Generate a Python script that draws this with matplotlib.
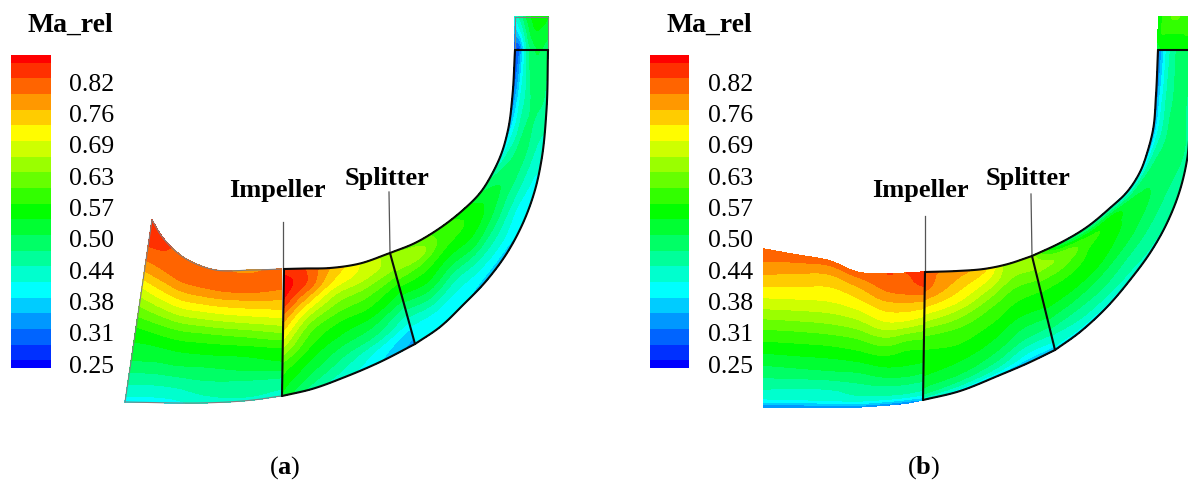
import numpy as np
import matplotlib
matplotlib.use("Agg")
import matplotlib.pyplot as plt
from matplotlib.colors import LinearSegmentedColormap, to_hex

W, H = 1188, 484
plt.rcParams['font.family'] = ['Liberation Serif', 'DejaVu Serif']
plt.rcParams['mathtext.fontset'] = 'custom'
plt.rcParams['mathtext.rm'] = 'Liberation Serif'
plt.rcParams['mathtext.bf'] = 'Liberation Serif:bold'

# ---- legend data ----
tick_values = [0.25, 0.3133, 0.3767, 0.44, 0.5033, 0.5667, 0.63, 0.6933, 0.7567, 0.82]
tick_labels = ['0.25', '0.31', '0.38', '0.44', '0.50', '0.57', '0.63', '0.69', '0.76', '0.82']
band_ma_start = 0.2419   # Ma_rel of contour band number 0
band_ma_step = 0.03165   # Ma_rel per contour band

# ---- panel (a): flow field, in contour band numbers ----
a_spans = [0, .12, .25, .37, .5, .62, .75, .87, 1]
a_inlet_top = [(152, 220), (163, 238), (183, 257), (207, 268), (253, 270), (281, 269)]
a_inlet_bot = [(125, 402), (150, 402.5), (175, 403), (200, 403), (253, 400), (281, 396)]
a_inlet_band = [
    [19.3, 18.7, 17.0, 14.5, 12.0, 10.0, 8.8, 7.0, 5.0],
    [18.8, 18.2, 16.5, 14.3, 11.8, 9.9, 8.5, 6.8, 5.0],
    [18.2, 18.0, 16.2, 14.0, 11.5, 9.8, 8.4, 6.8, 5.2],
    [18.0, 17.8, 15.8, 13.6, 11.2, 9.7, 8.3, 7.1, 5.9],
    [17.3, 18.0, 16.2, 14.2, 11.8, 10.0, 8.8, 7.2, 6.3],
    [18.0, 17.8, 16.4, 14.7, 12.5, 10.5, 9.2, 7.3, 6.0],
]
a_imp_top = [(284, 269), (305, 268.5), (330, 268), (360, 263.5), (390, 253)]
a_imp_bot = [(282, 396), (312, 389), (345, 377), (380, 362), (415, 344)]
a_imp_band = [
    [19.0, 20.1, 19.3, 17.3, 15.3, 13.5, 11.3, 10.2, 9.3],
    [18.5, 18.5, 16.3, 14.0, 12.0, 10.8, 9.6, 8.5, 7.0],
    [16.5, 15.5, 13.5, 12.0, 10.5, 9.5, 8.2, 7.0, 5.8],
    [14.5, 14.0, 12.5, 11.2, 10.0, 8.7, 7.3, 5.5, 4.5],
    [13.0, 13.0, 11.5, 10.0, 8.7, 7.0, 5.5, 4.0, 3.0],
]
a_dif_top = [(390, 253), (415, 243), (440, 228), (463, 210), (480, 193), (492, 174), (502, 152),
             (508, 130), (512.5, 95), (515, 50)]
a_dif_bot = [(415, 344), (440, 327), (463, 305), (487, 280), (507, 253), (523, 223), (535, 190),
             (541.5, 160), (546.5, 110), (548, 50)]
a_dif_band = [
    [12.5, 13.0, 12.0, 10.5, 9.0, 7.5, 6.0, 5.0, 4.5],
    [12.0, 13.0, 11.5, 10.3, 9.2, 7.8, 6.2, 5.0, 4.5],
    [11.0, 11.0, 10.5, 9.5, 8.3, 7.0, 5.8, 5.0, 4.6],
    [10.0, 10.4, 10.2, 9.5, 8.5, 7.2, 6.0, 5.0, 4.0],
    [8.5, 9.3, 9.3, 8.7, 7.8, 6.8, 6.0, 5.0, 4.0],
    [7.0, 8.0, 8.5, 8.0, 7.3, 6.5, 5.5, 5.0, 5.0],
    [4.5, 6.5, 7.5, 8.0, 7.5, 6.8, 6.0, 5.4, 5.2],
    [3.5, 5.3, 6.5, 7.5, 7.8, 7.3, 6.6, 6.0, 5.7],
    [2.0, 3.8, 5.7, 6.5, 7.3, 7.7, 7.6, 7.4, 7.0],
    [1.0, 2.0, 4.5, 6.5, 8.0, 8.5, 8.5, 8.0, 7.5],
]
a_out_top = [(515, 50), (515, 33), (515, 17)]
a_out_bot = [(548, 50), (548, 33), (548, 17)]
a_out_band = [
    [1.5, 1.0, 4.0, 6.5, 7.5, 8.2, 8.5, 8.3, 8.0],
    [3.5, 4.5, 6.0, 7.5, 8.7, 9.3, 9.3, 9.0, 8.7],
    [5.5, 6.5, 7.5, 8.7, 9.5, 10.0, 10.0, 10.0, 9.5],
]

# ---- panel (b) ----
b_spans = [0, .12, .25, .37, .5, .62, .75, .87, .96, 1]
b_inlet_top = [(764, 249), (797, 255), (830, 261), (857, 272), (887, 274), (907, 273), (923, 272)]
b_inlet_bot = [(764, 407), (797, 407), (830, 407), (857, 407), (887, 405), (907, 403), (923, 400)]
b_inlet_band = [
    [18.3, 17.0, 15.3, 13.6, 11.6, 10.0, 8.3, 6.7, 5.0, 2.5],
    [18.2, 16.5, 15.0, 13.4, 11.5, 10.0, 8.4, 6.6, 5.1, 2.5],
    [18.0, 16.1, 14.8, 13.3, 11.5, 10.0, 8.5, 6.6, 5.3, 2.5],
    [18.0, 16.3, 14.8, 13.2, 11.4, 10.0, 8.4, 6.8, 5.3, 2.5],
    [18.5, 17.6, 15.9, 14.4, 12.2, 10.5, 9.0, 7.2, 5.3, 2.5],
    [18.5, 18.0, 16.1, 14.4, 11.8, 10.2, 9.1, 7.2, 5.3, 2.5],
    [19.0, 18.4, 16.1, 14.1, 11.8, 10.3, 9.0, 7.2, 5.5, 3.5],
]
b_imp_top = [(925, 272), (957, 271), (987, 268.5), (1008, 264), (1032, 256)]
b_imp_bot = [(923, 400), (960, 391), (1000, 375), (1027, 363.5), (1055, 350)]
b_imp_band = [
    [17.8, 17.8, 15.9, 13.8, 11.5, 10.4, 9.9, 8.9, 7.3, 5.5],
    [17.0, 16.0, 14.6, 12.8, 11.2, 10.4, 9.5, 8.3, 6.2, 4.5],
    [15.5, 14.3, 12.7, 11.4, 10.5, 9.7, 8.7, 7.3, 5.5, 4.0],
    [13.0, 12.7, 11.5, 10.6, 9.8, 8.8, 7.7, 6.0, 4.5, 3.0],
    [12.8, 12.6, 11.5, 10.5, 9.8, 8.8, 7.5, 6.0, 4.5, 3.0],
]
b_dif_top = [(1032, 256), (1060, 243), (1087, 227), (1110, 208), (1127, 192), (1140, 172), (1148, 150),
             (1153, 130), (1156, 95), (1158, 50)]
b_dif_bot = [(1055, 350), (1080, 332), (1107, 307), (1130, 280), (1150, 253), (1167, 223), (1180, 190),
             (1187, 160), (1190, 110), (1192, 50)]
b_dif_band = [
    [12.8, 13.0, 11.8, 10.6, 10.0, 9.0, 7.8, 6.2, 5.5, 3.0],
    [8.0, 12.0, 11.5, 10.5, 9.8, 8.8, 7.6, 6.5, 5.5, 3.0],
    [6.5, 10.5, 10.3, 10.0, 9.5, 8.5, 7.6, 6.6, 5.5, 4.0],
    [5.5, 9.7, 9.7, 9.5, 9.0, 8.2, 7.4, 6.8, 5.8, 5.0],
    [4.5, 8.2, 9.0, 9.0, 8.5, 8.0, 7.3, 6.8, 6.2, 5.0],
    [4.0, 7.2, 8.3, 8.5, 8.2, 7.8, 7.3, 7.0, 6.5, 5.5],
    [3.0, 6.0, 7.5, 8.0, 8.0, 7.8, 7.5, 7.2, 7.0, 6.0],
    [2.5, 5.3, 6.7, 7.5, 8.0, 8.0, 7.8, 7.5, 7.2, 6.5],
    [2.0, 4.5, 6.0, 7.0, 7.5, 7.8, 7.8, 7.5, 7.3, 7.0],
    [1.8, 3.5, 5.5, 6.5, 7.3, 7.8, 8.0, 7.8, 7.5, 7.3],
]
b_out_top = [(1158, 50), (1158, 33), (1159, 17)]
b_out_bot = [(1192, 50), (1192, 33), (1192, 17)]
b_out_band = [
    [9.0, 9.5, 10.0, 10.0, 10.0, 10.0, 10.0, 10.0, 10.0, 10.0],
    [10.0, 10.5, 10.5, 10.5, 10.5, 10.5, 10.5, 10.5, 10.0, 10.0],
    [10.0, 10.5, 11.0, 11.5, 11.7, 11.5, 11.0, 10.5, 10.5, 10.0],
]

anchors = ['#0000ff', '#00ffff', '#00ff00', '#ffff00', '#ff0000']
cm = LinearSegmentedColormap.from_list('rainbow_bands', anchors, N=256)
band_colors = [to_hex(cm(i / 20)) for i in range(21)]
levels = [0.2418] + [band_ma_start + band_ma_step * (i - 0.5) for i in range(1, 21)] + [0.8747]


def smooth(t, y, tn):
    """Smooth the contour drawing between read stations (cubic Hermite along axis 0)."""
    t, y = np.asarray(t, float), np.asarray(y, float)
    d = np.gradient(y, t, axis=0)
    i = np.clip(np.searchsorted(t, tn, side='right') - 1, 0, len(t) - 2)
    h = (t[i + 1] - t[i]).reshape((-1,) + (1,) * (y.ndim - 1))
    u = ((tn - t[i]) / (t[i + 1] - t[i])).reshape(h.shape)
    return ((2 * u**3 - 3 * u**2 + 1) * y[i] + (u**3 - 2 * u**2 + u) * h * d[i]
            + (-2 * u**3 + 3 * u**2) * y[i + 1] + (u**3 - u**2) * h * d[i + 1])


def draw_zone(ax, top, bot, spans, bands):
    top, bot = np.array(top, float), np.array(bot, float)
    s = np.array(spans, float)
    mid = (top + bot) / 2
    t = np.r_[0, np.cumsum(np.hypot(*np.diff(mid, axis=0).T))]
    tn = np.linspace(t[0], t[-1], max(60, 10 * len(t)))
    sn = np.linspace(0, 1, 80)
    topf, botf = smooth(t, top, tn), smooth(t, bot, tn)
    X = topf[:, 0, None] * (1 - sn) + botf[:, 0, None] * sn
    Y = topf[:, 1, None] * (1 - sn) + botf[:, 1, None] * sn
    Z = band_ma_start + band_ma_step * np.array(bands, float)
    Zf = smooth(s, smooth(t, Z, tn).T, sn).T
    Zf = np.clip(Zf, levels[0] + 1e-4, levels[-1] - 1e-4)
    cs = ax.contourf(X, Y, Zf, levels=levels, colors=band_colors, zorder=1)
    cs.set_edgecolor('face')
    cs.set_linewidth(0.25)
    return cs, {'top': topf.T, 'bot': botf.T, 'first': (X[0], Y[0]), 'last': (X[-1], Y[-1])}


fig = plt.figure(figsize=(W / 100, H / 100), dpi=100)
ax = fig.add_axes([0, 0, 1, 1])
ax.set_xlim(0, W)
ax.set_ylim(H, 0)
ax.axis('off')

BLACK = dict(color='#0a0a0a', lw=1.5, zorder=3, solid_capstyle='round')
GREY = dict(color='#808080', lw=0.8, zorder=2)
LEAD = dict(color='#555555', lw=0.9, zorder=2)


def panel(spans, inlet, imp, dif, out, grey_edges, imp_lead, spl_lead,
          imp_text, spl_text, bar_x, bar_label_x, sub):
    cs, e_i = draw_zone(ax, *inlet[:2], spans, inlet[2])
    _, e_m = draw_zone(ax, *imp[:2], spans, imp[2])
    _, e_d = draw_zone(ax, *dif[:2], spans, dif[2])
    _, e_o = draw_zone(ax, *out[:2], spans, out[2])
    if grey_edges:
        for key in ('top', 'bot', 'first'):
            ax.plot(*e_i[key], **GREY)
        for key in ('top', 'bot', 'last'):
            ax.plot(*e_o[key], **GREY)
    for key in ('top', 'bot', 'first', 'last'):
        ax.plot(*e_m[key], **BLACK)
    for key in ('top', 'bot', 'last'):
        ax.plot(*e_d[key], **BLACK)
    ax.plot([imp_lead[0]] * 2, [imp_lead[1], imp[0][0][1]], **LEAD)
    ax.plot([spl_lead[0], imp[0][-1][0]], [spl_lead[1], imp[0][-1][1]], **LEAD)
    ax.text(*imp_text, 'Impeller', ha='center', va='center', fontsize=19, fontweight='bold')
    ax.text(*spl_text, 'Splitter', ha='center', va='center', fontsize=19, fontweight='bold')
    ax.text(sub[0], sub[1], '(' + r'$\mathbf{' + sub[2] + '}$' + ')', ha='center', va='center', fontsize=19)
    ax.text(bar_label_x + 44, 25, 'Ma_rel', ha='right', va='center', fontsize=20, fontweight='bold')
    cax = fig.add_axes([bar_x / W, 1 - 368.3 / H, 39.5 / W, 313.3 / H])
    cb = fig.colorbar(cs, cax=cax, spacing='proportional', ticks=tick_values)
    cb.outline.set_visible(False)
    cb.set_ticklabels(tick_labels)
    cax.tick_params(length=0, pad=13.5, labelsize=18.5)


panel(a_spans, (a_inlet_top, a_inlet_bot, a_inlet_band), (a_imp_top, a_imp_bot, a_imp_band),
      (a_dif_top, a_dif_bot, a_dif_band), (a_out_top, a_out_bot, a_out_band), True,
      (283, 222), (389, 192), (277, 190), (387, 178), 11, 69, (285, 468, 'a'))
panel(b_spans, (b_inlet_top, b_inlet_bot, b_inlet_band), (b_imp_top, b_imp_bot, b_imp_band),
      (b_dif_top, b_dif_bot, b_dif_band), (b_out_top, b_out_bot, b_out_band), False,
      (925, 216), (1031, 194), (920, 190), (1028, 178), 649.5, 708, (924, 468, 'b'))

fig.savefig('out.png', dpi=100)
